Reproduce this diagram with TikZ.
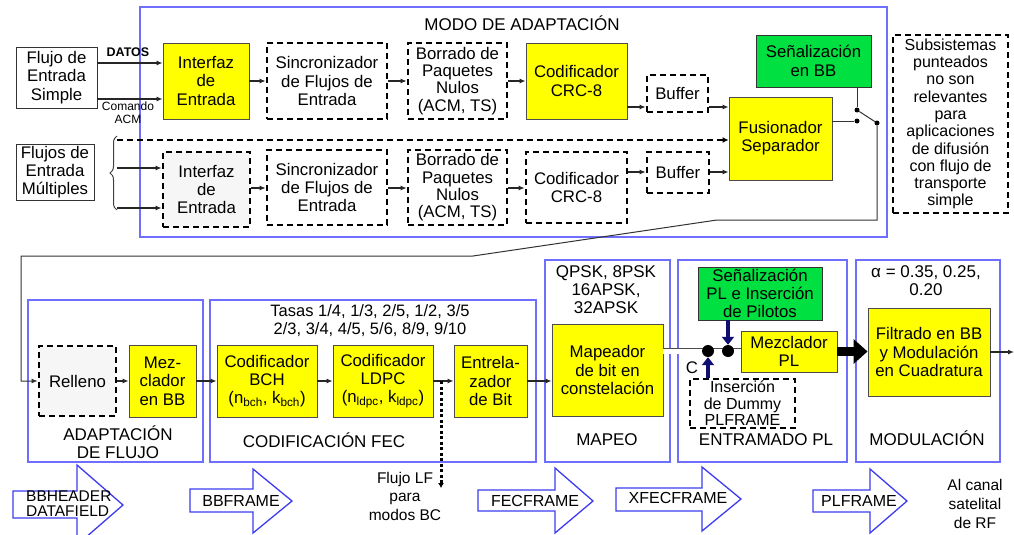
\documentclass[tikz,border=0pt]{standalone}
\usepackage{fontspec}
\setmainfont{Liberation Sans}
\usetikzlibrary{arrows.meta,decorations.pathreplacing,calc}
\definecolor{boxyellow}{RGB}{255,255,0}
\definecolor{boxgreen}{RGB}{0,224,64}
\definecolor{framblue}{RGB}{110,110,255}
\definecolor{arrowblue}{RGB}{60,60,240}
\definecolor{navyarrow}{RGB}{15,15,115}
\definecolor{lightfill}{RGB}{246,246,246}

\begin{document}
\begin{tikzpicture}[x=1pt,y=-1pt,
  every node/.style={font=\fontsize{16.8}{18.3}\selectfont, align=center, inner sep=0pt},
  ybox/.style={draw=black!70, line width=0.9pt, fill=boxyellow},
  gbox/.style={draw=black!80, line width=0.9pt, fill=boxgreen},
  wbox/.style={draw=black!80, line width=0.9pt, fill=white},
  dbox/.style={draw=black, line width=2.8pt, dash pattern=on 6pt off 4pt, fill=white},
  frame/.style={draw=framblue, line width=1.3pt},
  arr/.style={-{Latex[length=6pt,width=5pt]}, line width=1.1pt, draw=black!85},
  wire/.style={line width=1pt, draw=black!80},
  sdot/.style={circle, fill=black, minimum size=5pt},
  bigdot/.style={circle, fill=black, minimum size=12pt},
  navyarr/.style={draw=navyarrow, line width=4pt, -{Triangle[length=8pt,width=12pt]}},
  barrow/.style={draw=arrowblue, line width=1.3pt, fill=white, line join=miter},
  title/.style={font=\fontsize{17}{18}\selectfont},
  arrtext/.style={font=\fontsize{16}{18}\selectfont},
  small/.style={font=\fontsize{12}{13}\selectfont}
]
\fill[white] (0,0) rectangle (1014,535);
\useasboundingbox (0,0) rectangle (1014,535);
\clip (0,0) rectangle (1014,535);

% ---------------- adaptation mode ----------------
\draw[frame] (140,7) rectangle (887,237);
\node[title] (tmodo) at (522,23) {MODO DE ADAPTACIÓN};

\node[wbox, minimum width=81pt, minimum height=61pt] (simple) at (56.5,77.5) {Flujo de\\Entrada\\Simple};
\node[wbox, minimum width=78pt, minimum height=56pt] (multi) at (55,172) {Flujos de\\Entrada\\Múltiples};

% single input stream
\node[ybox, minimum width=86pt, minimum height=76pt] (ifz1) at (206,81) {Interfaz\\de\\Entrada};
\node[dbox, minimum width=120pt, minimum height=76pt] (sinc1) at (327,81) {Sincronizador\\de Flujos de\\Entrada};
\node[dbox, minimum width=99pt, minimum height=76pt, font=\fontsize{16.8}{17.3}\selectfont] (borr1) at (457.5,81) {Borrado de\\Paquetes\\Nulos\\(ACM, TS)};
\node[ybox, minimum width=101pt, minimum height=76pt] (crc1) at (576.5,81) {Codificador\\CRC-8};
\node[dbox, minimum width=61pt, minimum height=37pt] (buf1) at (677.5,93.5) {Buffer};

% multiple input streams
\node[dbox, fill=lightfill, minimum width=87pt, minimum height=75pt] (ifz2) at (206.5,189.5) {Interfaz\\de\\Entrada};
\node[dbox, minimum width=120pt, minimum height=75pt] (sinc2) at (327,187.5) {Sincronizador\\de Flujos de\\Entrada};
\node[dbox, minimum width=99pt, minimum height=75pt, font=\fontsize{16.8}{17.3}\selectfont] (borr2) at (457.5,187.5) {Borrado de\\Paquetes\\Nulos\\(ACM, TS)};
\node[dbox, minimum width=101pt, minimum height=71pt] (crc2) at (576.5,187.5) {Codificador\\CRC-8};
\node[dbox, minimum width=62pt, minimum height=41pt] (buf2) at (678,172.5) {Buffer};

\node[ybox, minimum width=103pt, minimum height=83pt] (fus) at (780.5,138.5) {Fusionador\\Separador};
\node[gbox, minimum width=115pt, minimum height=52pt] (sen) at (813.5,61) {Señalización\\en BB};

\node[dbox, minimum width=115pt, minimum height=178pt, font=\fontsize{16}{17.3}\selectfont] (note) at (950.5,124) {Subsistemas\\punteados\\no son\\relevantes\\para\\aplicaciones\\de difusión\\con flujo de\\transporte\\simple};

% input labels
\node[font=\bfseries\fontsize{12.5}{14}\selectfont] (datos) at (128,52) {DATOS};
\node[small] (acm) at (128,113) {Comando\\ACM};

% input connectors
\coordinate (yD) at (0,63);
\coordinate (yC) at (0,99);
\draw[arr, line width=2.2pt] (simple.east |- yD) -- (ifz1.west |- yD);
\draw[arr] (simple.east |- yC) -- (ifz1.west |- yC);

\draw[line width=1pt, draw=black!75, decorate, decoration={brace, amplitude=7pt}] (117,210) -- (117,136);
\coordinate (br0) at (117,140);
\coordinate (br1) at (117,168);
\coordinate (br2) at (117,208);
\draw[arr, line width=2pt] (br1) -- (ifz2.west |- br1);
\draw[arr, line width=1.6pt] (br2) -- (ifz2.west |- br2);
\draw[line width=2.8pt, dash pattern=on 6pt off 4pt, -{Latex[length=6pt,width=6pt]}] (br0) -- (fus.west |- br0);

% chain, single stream
\coordinate (yB1) at (0,107);
\draw[arr] (ifz1.east) -- (sinc1.west);
\draw[arr] (sinc1.east) -- (borr1.west);
\draw[arr] (borr1.east) -- (crc1.west);
\draw[arr] (crc1.east |- yB1) -- (buf1.west |- yB1);
\draw[arr, line width=2.4pt] (buf1.east |- yB1) -- (fus.west |- yB1);

% chain, multiple streams
\coordinate (yL) at (0,188);
\coordinate (yB2) at (0,172);
\draw[arr] (ifz2.east |- yL) -- (sinc2.west |- yL);
\draw[arr] (sinc2.east |- yL) -- (borr2.west |- yL);
\draw[arr] (borr2.east |- yL) -- (crc2.west |- yL);
\draw[arr] (crc2.east |- yB2) -- (buf2.west |- yB2);
\draw[arr, line width=2pt] (buf2.east |- yB2) -- (fus.west |- yB2);

% BB signalling switch
\node[sdot] (s1) at (857,110) {};
\node[sdot] (s2) at (857,121) {};
\node[sdot] (s3) at (877,123) {};
\draw[wire] (sen.south -| s1) -- (s1);
\draw[wire] (fus.east |- s2) -- (s2);
\draw[wire] (s1) -- (s3);

% ---------------- lower chain ----------------
\draw[frame] (28,300) rectangle (203,462);
\draw[frame] (210,300) rectangle (536,462);
\draw[frame] (545,260) rectangle (670,462);
\draw[frame] (678,260) rectangle (847,462);
\draw[frame] (856,260) rectangle (1000,462);

\node[title] (tadap) at (118,442) {ADAPTACIÓN\\DE FLUJO};
\node[title] (tfec) at (324,440) {CODIFICACIÓN FEC};
\node[title] (tmap) at (607,440) {MAPEO};
\node[title] (tent) at (766,440) {ENTRAMADO PL};
\node[title] (tmod) at (927,438) {MODULACIÓN};

\node[font=\fontsize{16.5}{18}\selectfont] (tasas) at (370,321) {Tasas 1/4, 1/3, 2/5, 1/2, 3/5\\2/3, 3/4, 4/5, 5/6, 8/9, 9/10};
\node[title] (const) at (606,290) {QPSK, 8PSK\\16APSK,\\32APSK};
\node[title] (alpha) at (926,281) {α = 0.35, 0.25,\\0.20};

\node[dbox, fill=lightfill, minimum width=77pt, minimum height=70pt] (rell) at (77.5,381) {Relleno};
\node[ybox, minimum width=67pt, minimum height=72pt] (mezbb) at (162.5,381) {Mez-\\clador\\en BB};
\node[ybox, minimum width=100pt, minimum height=72pt] (bch) at (267,381) {Codificador\\BCH\\(n\textsubscript{bch}, k\textsubscript{bch})};
\node[ybox, minimum width=100pt, minimum height=72pt] (ldpc) at (383,381) {Codificador\\LDPC\\(n\textsubscript{ldpc}, k\textsubscript{ldpc})};
\node[ybox, minimum width=73pt, minimum height=72pt] (entb) at (490.5,381) {Entrela-\\zador\\de Bit};
\node[ybox, minimum width=111pt, minimum height=92pt] (map) at (607.5,370) {Mapeador\\de bit en\\constelación};
\node[gbox, minimum width=124pt, minimum height=53pt] (senpl) at (760,293.5) {Señalización\\PL e Inserción\\de Pilotos};
\node[ybox, minimum width=96pt, minimum height=41pt] (mezpl) at (789,351.5) {Mezclador\\PL};
\node[dbox, minimum width=105pt, minimum height=49pt, font=\fontsize{16}{16.5}\selectfont] (dummy) at (742.5,403.5) {Inserción\\de Dummy\\PLFRAME};
\node[ybox, minimum width=122pt, minimum height=88pt] (filt) at (929,352) {Filtrado en BB\\y Modulación\\en Cuadratura};
\node (cl) at (692,368) {C};

% feedback from the switch to the padding block
\coordinate (f1) at (877,220);
\coordinate (f2) at (717,220);
\coordinate (f3) at (473,256);
\coordinate (f4) at (21,256);
\draw[wire, -{Latex[length=6pt,width=5pt]}] (s3) -- (f1) -- (f2) -- (f3) -- (f4) |- (rell.west);

\draw[arr] (rell.east) -- (mezbb.west);
\draw[arr] (mezbb.east) -- (bch.west);
\draw[arr] (bch.east) -- (ldpc.west);
\draw[arr] (ldpc.east) -- (entb.west);
\draw[arr] (entb.east) -- (entb.east -| map.west);

% LF stream for broadcast modes
\coordinate (lf0) at (441,381);
\coordinate (lf1) at (441,488);
\draw[line width=3pt, dash pattern=on 3pt off 2.5pt, -{Latex[length=5pt,width=6pt]}] (lf0) -- (lf1);
\node[font=\fontsize{15.5}{18.5}\selectfont] (lf) at (405,496) {Flujo LF\\para\\modos BC};

% PL framing
\coordinate (d0) at (0,351);
\draw[draw=black!70, line width=0.8pt, double=white, double distance=5pt] (map.east |- d0) -- (mezpl.west |- d0);
\node[bigdot] (d1) at (708,351) {};
\node[bigdot] (d2) at (728,351) {};
\draw[navyarr] (senpl.south -| d2) -- (d2.north);
\draw[navyarr] (dummy.north -| d1) -- (d1.south);

\draw[line width=9pt, -{Triangle[length=14pt,width=24pt]}] (mezpl.east) -- (mezpl.east -| filt.west);
\coordinate (rfout) at (1014,352);
\draw[arr, line width=2.5pt] (filt.east) -- (rfout);

\node[font=\fontsize{15.5}{19}\selectfont] (rf) at (975,504) {Al canal\\satelital\\de RF};

% frame-format block arrows
\draw[barrow] (13,491) -- (77,491) -- (77,465) -- (123,505) -- (77,545) -- (77,518) -- (13,518) -- cycle;
\node[anchor=west, align=left, font=\fontsize{15.5}{15}\selectfont] (bbh) at (26,504) {BBHEADER\\DATAFIELD};
\draw[barrow] (190,489) -- (253,489) -- (253,469) -- (292,501) -- (253,533) -- (253,512) -- (190,512) -- cycle;
\node[arrtext] (bbf) at (241,501) {BBFRAME};
\draw[barrow] (478,490) -- (555,490) -- (555,468) -- (593,501) -- (555,533) -- (555,511) -- (478,511) -- cycle;
\node[arrtext] (fecf) at (535,501) {FECFRAME};
\draw[barrow] (616,488) -- (702,488) -- (702,467) -- (741,499) -- (702,531) -- (702,511) -- (616,511) -- cycle;
\node[arrtext] (xfecf) at (678,498) {XFECFRAME};
\draw[barrow] (813,490) -- (870,490) -- (870,469) -- (907,501) -- (870,533) -- (870,512) -- (813,512) -- cycle;
\node[arrtext] (plf) at (859,501) {PLFRAME};
\end{tikzpicture}
\end{document}
